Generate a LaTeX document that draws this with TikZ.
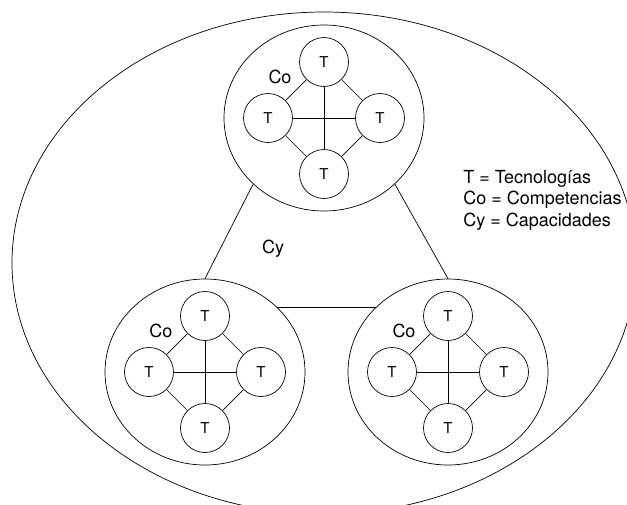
\documentclass[tikz,border=0pt]{standalone}
\usepackage{fontspec}
\setmainfont{TeX Gyre Heros}
\usetikzlibrary{shapes.geometric}

\tikzset{
  tnode/.style={draw, circle, minimum size=49pt, inner sep=0pt, font=\fontsize{15}{18}\selectfont},
  conode/.style={draw, ellipse, minimum width=200pt, minimum height=186pt, inner sep=0pt},
  lbl/.style={font=\fontsize{18}{21.5}\selectfont},
}

% one group of competencies: name, x, y
\newcommand\cogroup[3]{%
  \node[conode] (#1) at (#2,#3) {};
  \node[tnode] (#1-n) at (#2,#3-\d) {T};
  \node[tnode] (#1-w) at (#2-\d,#3) {T};
  \node[tnode] (#1-e) at (#2+\d,#3) {T};
  \node[tnode] (#1-s) at (#2,#3+\d) {T};
  \node[lbl] (#1-co) at (#2-44,#3-41) {Co};
  \draw (#1-n)--(#1-s);
  \draw (#1-w)--(#1-e);
  \draw (#1-n)--(#1-w)--(#1-s)--(#1-e)--(#1-n);
}

\begin{document}
\begin{tikzpicture}[x=1pt,y=-1pt,line width=0.7pt]
%
%''''''''''''''''''''''''''''Choose sizes''''''''''''''''''''''''''''''''''''''''''''''''''''''''
\def\d{56} % offset of the T circles from the group centre
%''''''''''''''''''''''''''''''''''''''''''''''''''''''''''''''''''''''''''''''''''''''''''''''''
%
\useasboundingbox (0,0) rectangle (627,504);
%
% capacities
\node[draw, ellipse, minimum width=624pt, minimum height=502pt, inner sep=0pt] (cy) at (324,263) {};
\node[lbl] (cy-lbl) at (273,249) {Cy};
%
% groups of competencies
\cogroup{top}{324}{118}
\cogroup{left}{205}{372}
\cogroup{right}{448}{372}
%
% connecting lines
\draw (top.-137)--(left.north);
\draw (top.-43)--(right.north);
\draw (left.42)--(right.138);
%
% legend
\node[lbl, align=left, anchor=west, inner sep=0pt] (legend) at (463,200) {T = Tecnologías\\Co = Competencias\\Cy = Capacidades};
%
\end{tikzpicture}
\end{document}
